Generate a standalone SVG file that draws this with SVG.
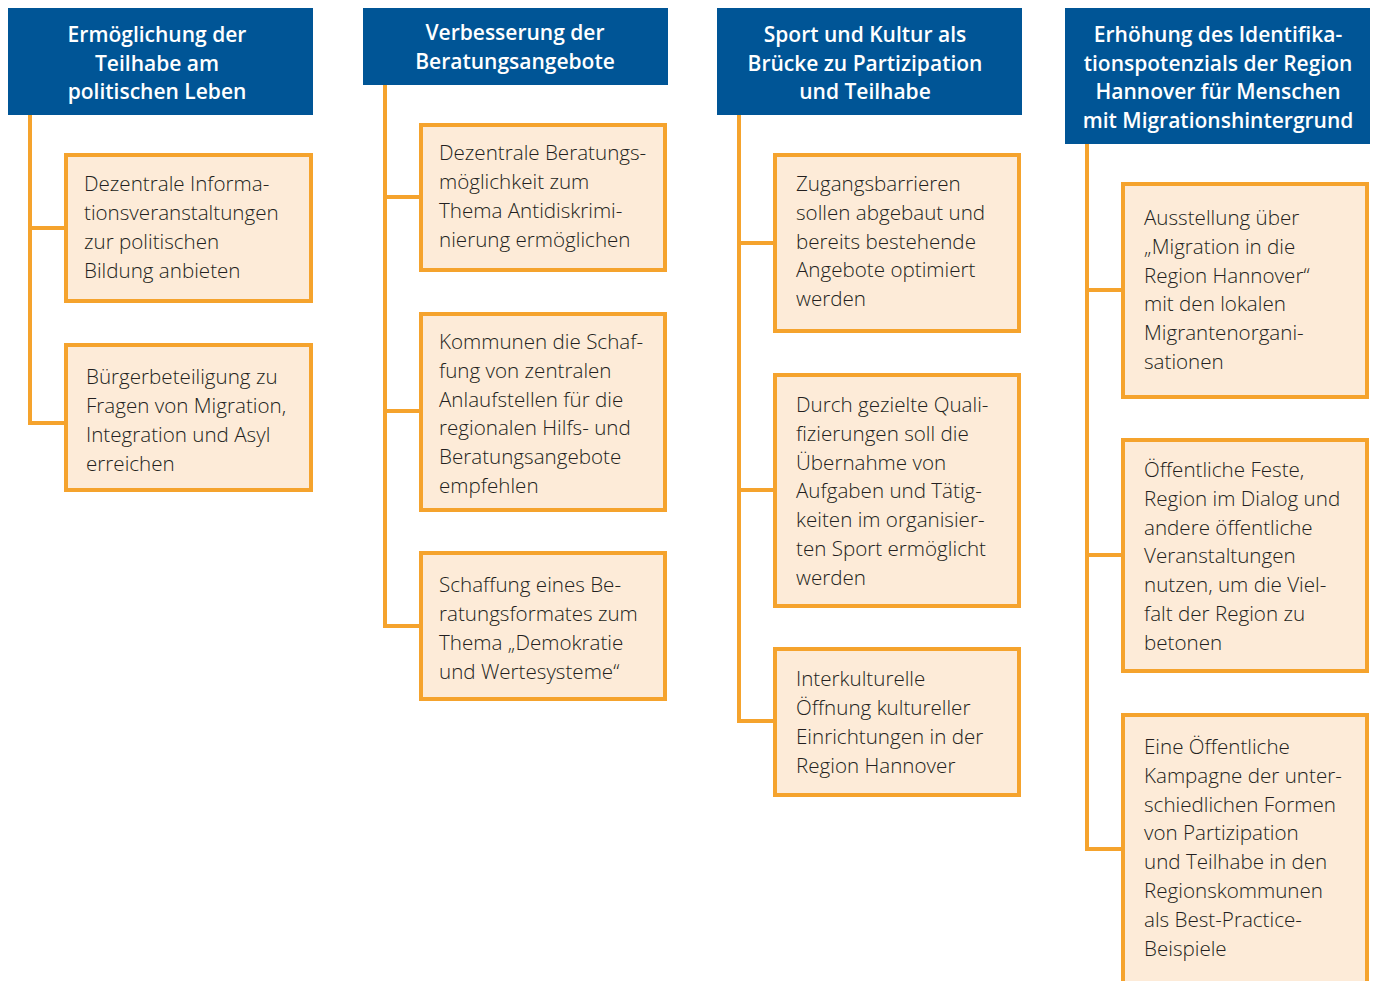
<svg xmlns="http://www.w3.org/2000/svg" width="1375" height="981" viewBox="0 0 1375 981">
<style>
.hd{fill:#005596}
.ht{fill:#fff;font-family:"Open Sans","Liberation Sans",sans-serif;font-weight:600;font-size:21px;text-anchor:middle}
.bx{fill:#fdebd8;stroke:#f5a32d;stroke-width:4}
.bt{fill:#231f20;font-family:"Open Sans","Liberation Sans",sans-serif;font-weight:300;font-size:20.6px}
.cn{fill:none;stroke:#f5a32d;stroke-width:4}
</style>
<rect width="1375" height="981" fill="#fff"/>
<g id="connectors">
<path class="cn" d="M30 115V423H64M30 228H64"/>
<path class="cn" d="M385 85V626H420M385 197H420M385 411H420"/>
<path class="cn" d="M739 115V721H773M739 243H773M739 490H773"/>
<path class="cn" d="M1087 144V849H1121M1087 290H1121M1087 555H1121"/>
</g>
<g id="h1"><rect class="hd" x="8" y="8" width="305" height="107"/>
<text class="ht" x="157" y="42">Ermöglichung der<tspan x="157" dy="28.5">Teilhabe am</tspan><tspan x="157" dy="28.5">politischen Leben</tspan></text></g>
<g id="h2"><rect class="hd" x="363" y="8" width="305" height="77"/>
<text class="ht" x="515" y="40">Verbesserung der<tspan x="515" dy="28.5">Beratungsangebote</tspan></text></g>
<g id="h3"><rect class="hd" x="717" y="8" width="305" height="107"/>
<text class="ht" x="865" y="42">Sport und Kultur als<tspan x="865" dy="28.5">Brücke zu Partizipation</tspan><tspan x="865" dy="28.5">und Teilhabe</tspan></text></g>
<g id="h4"><rect class="hd" x="1065" y="8" width="305" height="136"/>
<text class="ht" x="1218" y="42">Erhöhung des Identifika-<tspan x="1218" dy="28.5">tionspotenzials der Region</tspan><tspan x="1218" dy="28.5">Hannover für Menschen</tspan><tspan x="1218" dy="28.5">mit Migrationshintergrund</tspan></text></g>

<g id="n1a"><rect class="bx" x="66" y="155" width="245" height="146"/>
<text class="bt" x="84" y="191">Dezentrale Informa-<tspan x="84" dy="29">tionsveranstaltungen</tspan><tspan x="84" dy="29">zur politischen</tspan><tspan x="84" dy="29">Bildung anbieten</tspan></text></g>
<g id="n1b"><rect class="bx" x="66" y="345" width="245" height="145"/>
<text class="bt" x="86" y="384">Bürgerbeteiligung zu<tspan x="86" dy="29">Fragen von Migration,</tspan><tspan x="86" dy="29">Integration und Asyl</tspan><tspan x="86" dy="29">erreichen</tspan></text></g>

<g id="n2a"><rect class="bx" x="421" y="125" width="244" height="145"/>
<text class="bt" x="439" y="160">Dezentrale Beratungs-<tspan x="439" dy="29">möglichkeit zum</tspan><tspan x="439" dy="29">Thema Antidiskrimi-</tspan><tspan x="439" dy="29">nierung ermöglichen</tspan></text></g>
<g id="n2b"><rect class="bx" x="421" y="314" width="244" height="196"/>
<text class="bt" x="439" y="349">Kommunen die Schaf-<tspan x="439" dy="28.8">fung von zentralen</tspan><tspan x="439" dy="28.8">Anlaufstellen für die</tspan><tspan x="439" dy="28.8">regionalen Hilfs- und</tspan><tspan x="439" dy="28.8">Beratungsangebote</tspan><tspan x="439" dy="28.8">empfehlen</tspan></text></g>
<g id="n2c"><rect class="bx" x="421" y="553" width="244" height="146"/>
<text class="bt" x="439" y="592">Schaffung eines Be-<tspan x="439" dy="29">ratungsformates zum</tspan><tspan x="439" dy="29">Thema „Demokratie</tspan><tspan x="439" dy="29">und Wertesysteme“</tspan></text></g>

<g id="n3a"><rect class="bx" x="775" y="155" width="244" height="176"/>
<text class="bt" x="796" y="191">Zugangsbarrieren<tspan x="796" dy="28.8">sollen abgebaut und</tspan><tspan x="796" dy="28.8">bereits bestehende</tspan><tspan x="796" dy="28.8">Angebote optimiert</tspan><tspan x="796" dy="28.8">werden</tspan></text></g>
<g id="n3b"><rect class="bx" x="775" y="375" width="244" height="231"/>
<text class="bt" x="796" y="412">Durch gezielte Quali-<tspan x="796" dy="28.8">fizierungen soll die</tspan><tspan x="796" dy="28.8">Übernahme von</tspan><tspan x="796" dy="28.8">Aufgaben und Tätig-</tspan><tspan x="796" dy="28.8">keiten im organisier-</tspan><tspan x="796" dy="28.8">ten Sport ermöglicht</tspan><tspan x="796" dy="28.8">werden</tspan></text></g>
<g id="n3c"><rect class="bx" x="775" y="649" width="244" height="146"/>
<text class="bt" x="796" y="686">Interkulturelle<tspan x="796" dy="29">Öffnung kultureller</tspan><tspan x="796" dy="29">Einrichtungen in der</tspan><tspan x="796" dy="29">Region Hannover</tspan></text></g>

<g id="n4a"><rect class="bx" x="1123" y="184" width="244" height="213"/>
<text class="bt" x="1144" y="225">Ausstellung über<tspan x="1144" dy="28.8">„Migration in die</tspan><tspan x="1144" dy="28.8">Region Hannover“</tspan><tspan x="1144" dy="28.8">mit den lokalen</tspan><tspan x="1144" dy="28.8">Migrantenorgani-</tspan><tspan x="1144" dy="28.8">sationen</tspan></text></g>
<g id="n4b"><rect class="bx" x="1123" y="440" width="244" height="231"/>
<text class="bt" x="1144" y="477">Öffentliche Feste,<tspan x="1144" dy="28.8">Region im Dialog und</tspan><tspan x="1144" dy="28.8">andere öffentliche</tspan><tspan x="1144" dy="28.8">Veranstaltungen</tspan><tspan x="1144" dy="28.8">nutzen, um die Viel-</tspan><tspan x="1144" dy="28.8">falt der Region zu</tspan><tspan x="1144" dy="28.8">betonen</tspan></text></g>
<g id="n4c"><rect class="bx" x="1123" y="715" width="244" height="290"/>
<text class="bt" x="1144" y="754">Eine Öffentliche<tspan x="1144" dy="28.8">Kampagne der unter-</tspan><tspan x="1144" dy="28.8">schiedlichen Formen</tspan><tspan x="1144" dy="28.8">von Partizipation</tspan><tspan x="1144" dy="28.8">und Teilhabe in den</tspan><tspan x="1144" dy="28.8">Regionskommunen</tspan><tspan x="1144" dy="28.8">als Best-Practice-</tspan><tspan x="1144" dy="28.8">Beispiele</tspan></text></g>
</svg>
